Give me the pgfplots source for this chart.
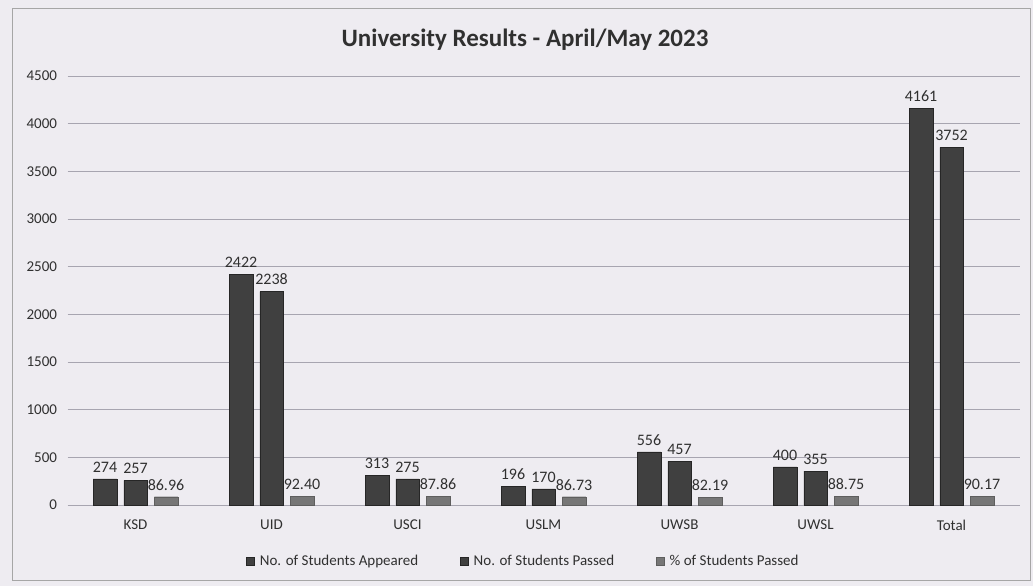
\documentclass[border=0pt]{standalone}
\usepackage{fontspec}
\setmainfont{Carlito}
\usepackage{pgfplots}
\pgfplotsset{compat=1.18}
\definecolor{bgc}{HTML}{EEECF1}
\definecolor{gridc}{HTML}{A7A5B0}
\definecolor{barA}{HTML}{404040}
\definecolor{barC}{HTML}{767676}
\definecolor{txt}{HTML}{303030}
\begin{document}
\begin{tikzpicture}[x=1pt,y=1pt]
\fill[bgc] (0,0) rectangle (1033,586);
\draw[gray!70, line width=0.8pt] (12,6) rectangle (1030,578);
\node[font=\fontsize{25}{29}\selectfont\bfseries, text=txt] at (525,546) {University Results - April/May 2023};
\begin{axis}[
  at={(67.5pt,81pt)}, anchor=south west,
  scale only axis, width=952pt, height=429pt,
  ymin=0, ymax=4500, ytick={0,500,...,4500},
  xmin=-0.5, xmax=6.5,
  xtick={0,...,6},
  xticklabels={KSD,UID,USCI,USLM,UWSB,UWSL,Total},
  ybar=7pt, bar width=23.5pt,
  axis line style={draw=none},
  tick style={draw=none},
  ymajorgrids, grid style={gridc, line width=0.9pt},
  tick label style={font=\fontsize{15}{17}\selectfont, text=txt},
  /pgf/number format/assume math mode=true,
  /pgf/number format/1000 sep={},
  yticklabel style={xshift=-7pt},
  xticklabel style={yshift=-7pt},
  legend style={at={(0.479,-0.1305)}, anchor=center, draw=none, fill=none,
    legend columns=3, font=\fontsize{15}{17}\selectfont, text=txt,
    /tikz/every odd column/.append style={column sep=3pt},
    /tikz/every even column/.append style={column sep=40pt}},
  legend image code/.code={\fill[#1] (0pt,-4pt) rectangle (8pt,4pt);},
  every node near coord/.append style={font=\fontsize{16}{18}\selectfont, text=txt, yshift=3pt},
]
\addplot[fill=barA, draw=black!85, nodes near coords={\pgfmathprintnumber[fixed,precision=0]{\pgfplotspointmeta}}] coordinates {(0,274) (1,2422) (2,313) (3,196) (4,556) (5,400) (6,4161)};
\addplot[fill=barA, draw=black!85, nodes near coords={\pgfmathprintnumber[fixed,precision=0]{\pgfplotspointmeta}}] coordinates {(0,257) (1,2238) (2,275) (3,170) (4,457) (5,355) (6,3752)};
\addplot[fill=barC, draw=barC!80!black, nodes near coords={\pgfmathprintnumber[fixed,fixed zerofill,precision=2]{\pgfplotspointmeta}}] coordinates {(0,86.96) (1,92.40) (2,87.86) (3,86.73) (4,82.19) (5,88.75) (6,90.17)};
\legend{No. of Students Appeared, No. of Students Passed, \% of Students Passed}
\end{axis}
\pgfresetboundingbox
\useasboundingbox (0,0) rectangle (1033,586);
\end{tikzpicture}
\end{document}
